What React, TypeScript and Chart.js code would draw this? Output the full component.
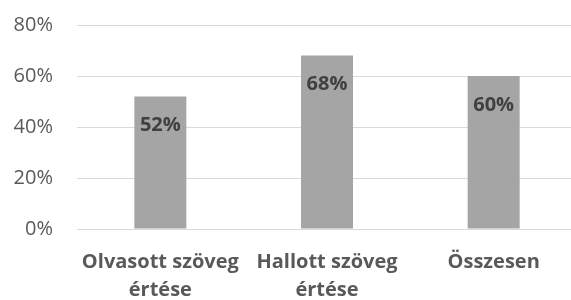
import React, { useEffect, useRef } from "react";
import { Chart, registerables } from "chart.js";

Chart.register(...registerables);

const categories: (string | string[])[] = [
  ["Olvasott szöveg", "értése"],
  ["Hallott szöveg", "értése"],
  "Összesen",
];
const values = [52, 68, 60];
const yTicks = [0, 20, 40, 60, 80];

const FONT = "'Open Sans', sans-serif";

const labelPlugin = {
  id: "barLabels",
  afterDatasetsDraw(chart: any) {
    const ctx = chart.ctx;
    const meta = chart.getDatasetMeta(0);
    ctx.save();
    ctx.font = `bold 20px ${FONT}`;
    ctx.fillStyle = "#404040";
    ctx.textAlign = "center";
    ctx.textBaseline = "middle";
    meta.data.forEach((bar: any, i: number) => {
      ctx.fillText(values[i] + "%", bar.x, bar.y + 29);
    });
    ctx.restore();
  },
};

export default function App() {
  const ref = useRef<HTMLCanvasElement>(null);
  useEffect(() => {
    document.body.style.margin = "0";
    const chart = new Chart(ref.current!, {
      type: "bar",
      data: {
        labels: categories,
        datasets: [
          {
            data: values,
            backgroundColor: "#a5a5a5",
            barPercentage: 0.312,
            categoryPercentage: 1,
          },
        ],
      },
      options: {
        animation: false,
        responsive: false,
        layout: { padding: { top: 25, right: 3, left: 0, bottom: 0 } },
        plugins: { legend: { display: false }, tooltip: { enabled: false } },
        scales: {
          x: {
            grid: { display: false, drawTicks: false },
            border: { display: false },
            ticks: {
              color: "#595959",
              font: { family: FONT, size: 20, weight: "bold", lineHeight: 1.4 },
              padding: 19,
              maxRotation: 0,
              autoSkip: false,
            },
            afterFit(scale: any) {
              scale.height = 71;
            },
          },
          y: {
            min: 0,
            max: 80,
            afterBuildTicks(scale: any) {
              scale.ticks = yTicks.map((v) => ({ value: v }));
            },
            grid: { color: "#d9d9d9", lineWidth: 1, drawTicks: false },
            border: { display: false },
            ticks: {
              color: "#595959",
              font: { family: FONT, size: 20 },
              padding: 24,
              callback: (v: any) => v + "%",
            },
            afterFit(scale: any) {
              scale.width = 77;
              scale.paddingTop = 0;
              scale.paddingBottom = 0;
            },
          },
        },
      },
      plugins: [labelPlugin],
    });
    return () => chart.destroy();
  }, []);
  return (
    <div style={{ width: 571, height: 300, overflow: "hidden" }}>
      <canvas ref={ref} width={580} height={300} style={{ display: "block" }} />
    </div>
  );
}
